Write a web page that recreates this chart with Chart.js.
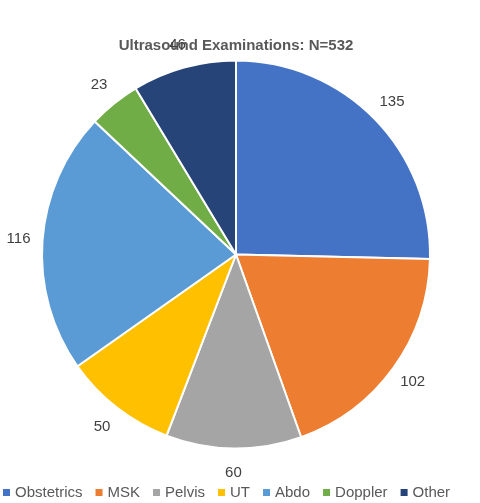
<!DOCTYPE html>
<html><head><meta charset="utf-8">
<script src="https://cdn.jsdelivr.net/npm/chart.js@4"></script>
<style>body{margin:0;background:#fff}#wrap{width:480px;height:503px}</style>
</head><body><div id="wrap"><canvas id="c"></canvas></div>
<script>
const categories = ['Obstetrics', 'MSK', 'Pelvis', 'UT', 'Abdo', 'Doppler', 'Other'];
const counts = [135, 102, 60, 50, 116, 23, 46];
const colors = ['#4472C4', '#ED7D31', '#A5A5A5', '#FFC000', '#5B9BD5', '#70AD47', '#264478'];
const FONT = '"Liberation Sans", Arial, sans-serif';

// value labels just outside each slice, plus a one-row legend along the bottom
const outsideLabels = {
  id: 'outsideLabels',
  afterDatasetsDraw(chart) {
    const ctx = chart.ctx;
    const meta = chart.getDatasetMeta(0);
    ctx.save();
    ctx.font = '15px ' + FONT;
    ctx.fillStyle = '#404040';
    ctx.textAlign = 'center';
    ctx.textBaseline = 'middle';
    meta.data.forEach((arc, i) => {
      const a = (arc.startAngle + arc.endAngle) / 2;
      const r = arc.outerRadius + 24;
      ctx.fillText(counts[i], arc.x + Math.cos(a) * r, arc.y + Math.sin(a) * r);
    });

    // legend row (runs off the right edge, as in the original)
    ctx.font = '15px ' + FONT;
    ctx.textAlign = 'left';
    ctx.fillStyle = '#595959';
    let x = 3;
    const y = 493;
    categories.forEach((name, i) => {
      ctx.fillStyle = colors[i];
      ctx.fillRect(x, y - 4, 7, 7);
      x += 12;
      ctx.fillStyle = '#595959';
      ctx.fillText(name, x, y);
      x += ctx.measureText(name).width + 13;
    });
    ctx.restore();
  }
};

new Chart(document.getElementById('c'), {
  type: 'pie',
  data: {
    labels: categories,
    datasets: [{ data: counts, backgroundColor: colors, borderColor: '#fff', borderWidth: 2 }]
  },
  options: {
    responsive: true,
    maintainAspectRatio: false,
    animation: false,
    layout: { padding: { top: 35, bottom: 53, left: 41, right: 49 } },
    plugins: {
      title: {
        display: true,
        text: 'Ultrasound Examinations: N=532',
        color: '#595959',
        font: { size: 15, weight: 'bold', family: FONT },
        padding: { top: 2, bottom: 4 }
      },
      legend: { display: false },
      tooltip: { enabled: false }
    }
  },
  plugins: [outsideLabels]
});
</script></body></html>
